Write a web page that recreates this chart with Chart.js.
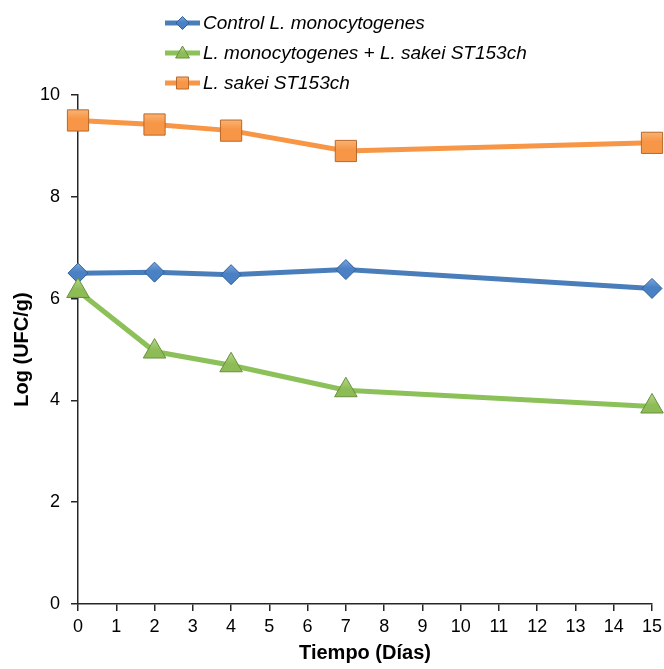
<!DOCTYPE html>
<html>
<head>
<meta charset="utf-8">
<script src="https://cdn.jsdelivr.net/npm/chart.js@4.4.1/dist/chart.umd.min.js"></script>
<style>
  html, body { margin: 0; padding: 0; background: #ffffff; }
  #wrap { position: relative; width: 664px; height: 669px; }
</style>
</head>
<body>
<div id="wrap"><canvas id="c" width="664" height="669"></canvas></div>
<script>
// ---- Data ----
const days = [0, 2, 4, 7, 15];
const controlLm = [6.50, 6.52, 6.47, 6.57, 6.20];
const lmPlusSakei = [6.15, 4.96, 4.69, 4.20, 3.88];
const sakeiOnly = [9.50, 9.42, 9.30, 8.90, 9.06];
const seriesNames = [
  'Control L. monocytogenes',
  'L. monocytogenes + L. sakei ST153ch',
  'L. sakei ST153ch'
];
const xTitle = 'Tiempo (Días)';
const yTitle = 'Log (UFC/g)';

const toXY = (vals) => vals.map((v, i) => ({ x: days[i], y: v }));

const styles = [
  { line: '#4a7ebb', light: '#7aa7dd', fill: '#4a80c4', border: '#2f5e99', shape: 'diamond', r: 10, lr: 6.5 },
  { line: '#8cc15a', light: '#b5d98a', fill: '#8dbb55', border: '#6a8f3e', shape: 'triangle', r: 13, lr: 8 },
  { line: '#f79646', light: '#fbc08a', fill: '#f79646', border: '#b8692b', shape: 'square', r: 15, lr: 8.5 }
];
const pointStyleFor = { diamond: 'rectRot', triangle: 'triangle', square: 'rect' };

function gradFill(ctx, st, x, y, r) {
  const g = ctx.createLinearGradient(x, y - r, x, y + r);
  g.addColorStop(0, st.light);
  g.addColorStop(0.45, st.fill);
  g.addColorStop(1, st.fill);
  return g;
}

function drawShape(ctx, st, x, y, r) {
  ctx.save();
  ctx.beginPath();
  if (st.shape === 'diamond') {
    ctx.moveTo(x, y - r); ctx.lineTo(x + r, y); ctx.lineTo(x, y + r); ctx.lineTo(x - r, y);
  } else if (st.shape === 'triangle') {
    const w = r * 0.866;
    ctx.moveTo(x, y - r); ctx.lineTo(x + w, y + r / 2); ctx.lineTo(x - w, y + r / 2);
  } else {
    const s = r * Math.SQRT1_2;
    ctx.rect(x - s, y - s, 2 * s, 2 * s);
  }
  ctx.closePath();
  ctx.fillStyle = gradFill(ctx, st, x, y, r); ctx.fill();
  ctx.lineWidth = 1; ctx.strokeStyle = st.border; ctx.stroke();
  ctx.restore();
}

const legendPlugin = {
  id: 'customLegend',
  afterDraw(chart) {
    const ctx = chart.ctx;
    const x0 = 165, x1 = 200, tx = 203;
    const baselines = [29, 59, 89];
    chart.data.datasets.forEach((ds, i) => {
      const st = styles[i];
      const yb = baselines[i];
      const ym = yb - 6;
      ctx.save();
      ctx.strokeStyle = st.line; ctx.lineWidth = 5; ctx.lineCap = 'butt';
      ctx.beginPath(); ctx.moveTo(x0, ym); ctx.lineTo(x1, ym); ctx.stroke();
      drawShape(ctx, st, (x0 + x1) / 2, ym + (st.shape === 'triangle' ? 1 : 0), st.lr);
      ctx.fillStyle = '#000';
      ctx.font = 'italic 19px "Liberation Sans", Arial, sans-serif';
      ctx.textBaseline = 'alphabetic';
      ctx.textAlign = 'left';
      ctx.fillText(ds.label, tx, yb);
      ctx.restore();
    });
  }
};

const datasets = [controlLm, lmPlusSakei, sakeiOnly].map((vals, i) => ({
  label: seriesNames[i],
  data: toXY(vals),
  borderColor: styles[i].line,
  borderWidth: 5,
  backgroundColor: styles[i].fill,
  pointStyle: pointStyleFor[styles[i].shape],
  pointRadius: styles[i].r,
  pointHoverRadius: styles[i].r,
  pointBackgroundColor: (c) => {
    const el = c.element;
    if (!el || el.x === undefined || isNaN(el.y)) return styles[i].fill;
    return gradFill(c.chart.ctx, styles[i], el.x, el.y, styles[i].r);
  },
  pointBorderColor: styles[i].border,
  pointBorderWidth: 1,
  tension: 0,
  clip: false,
  order: 3 - i
}));

const axisColor = '#262626';
const tickFont = { family: '"Liberation Sans", Arial, sans-serif', size: 18 };
const titleFont = { family: '"Liberation Sans", Arial, sans-serif', size: 20, weight: 'bold' };

new Chart(document.getElementById('c'), {
  type: 'line',
  data: { datasets },
  plugins: [legendPlugin],
  options: {
    responsive: false,
    animation: false,
    devicePixelRatio: 1,
    layout: { autoPadding: false, padding: { top: 95, right: 12, bottom: 0, left: 0 } },
    plugins: { legend: { display: false }, tooltip: { enabled: false } },
    scales: {
      x: {
        type: 'linear',
        min: 0, max: 15,
        ticks: { stepSize: 1, color: '#000', font: tickFont, padding: 5, maxRotation: 0 },
        grid: { drawOnChartArea: false, drawTicks: true, tickLength: 7, color: axisColor, lineWidth: 1.5 },
        border: { display: true, color: axisColor, width: 1.5 },
        title: { display: true, text: xTitle, color: '#000', font: titleFont, padding: { top: 0, bottom: 4 } },
        afterFit(scale) { scale.height = 65; scale.paddingRight = 0; scale.paddingLeft = 0; }
      },
      y: {
        min: 0, max: 10,
        ticks: { stepSize: 2, color: '#000', font: tickFont, padding: 11 },
        grid: { drawOnChartArea: false, drawTicks: true, tickLength: 7, color: axisColor, lineWidth: 1.5 },
        border: { display: true, color: axisColor, width: 1.5 },
        title: { display: true, text: yTitle, color: '#000', font: titleFont, padding: { top: 10, bottom: 0 } },
        afterFit(scale) { scale.width = 78; }
      }
    }
  }
});
</script>
</body>
</html>
